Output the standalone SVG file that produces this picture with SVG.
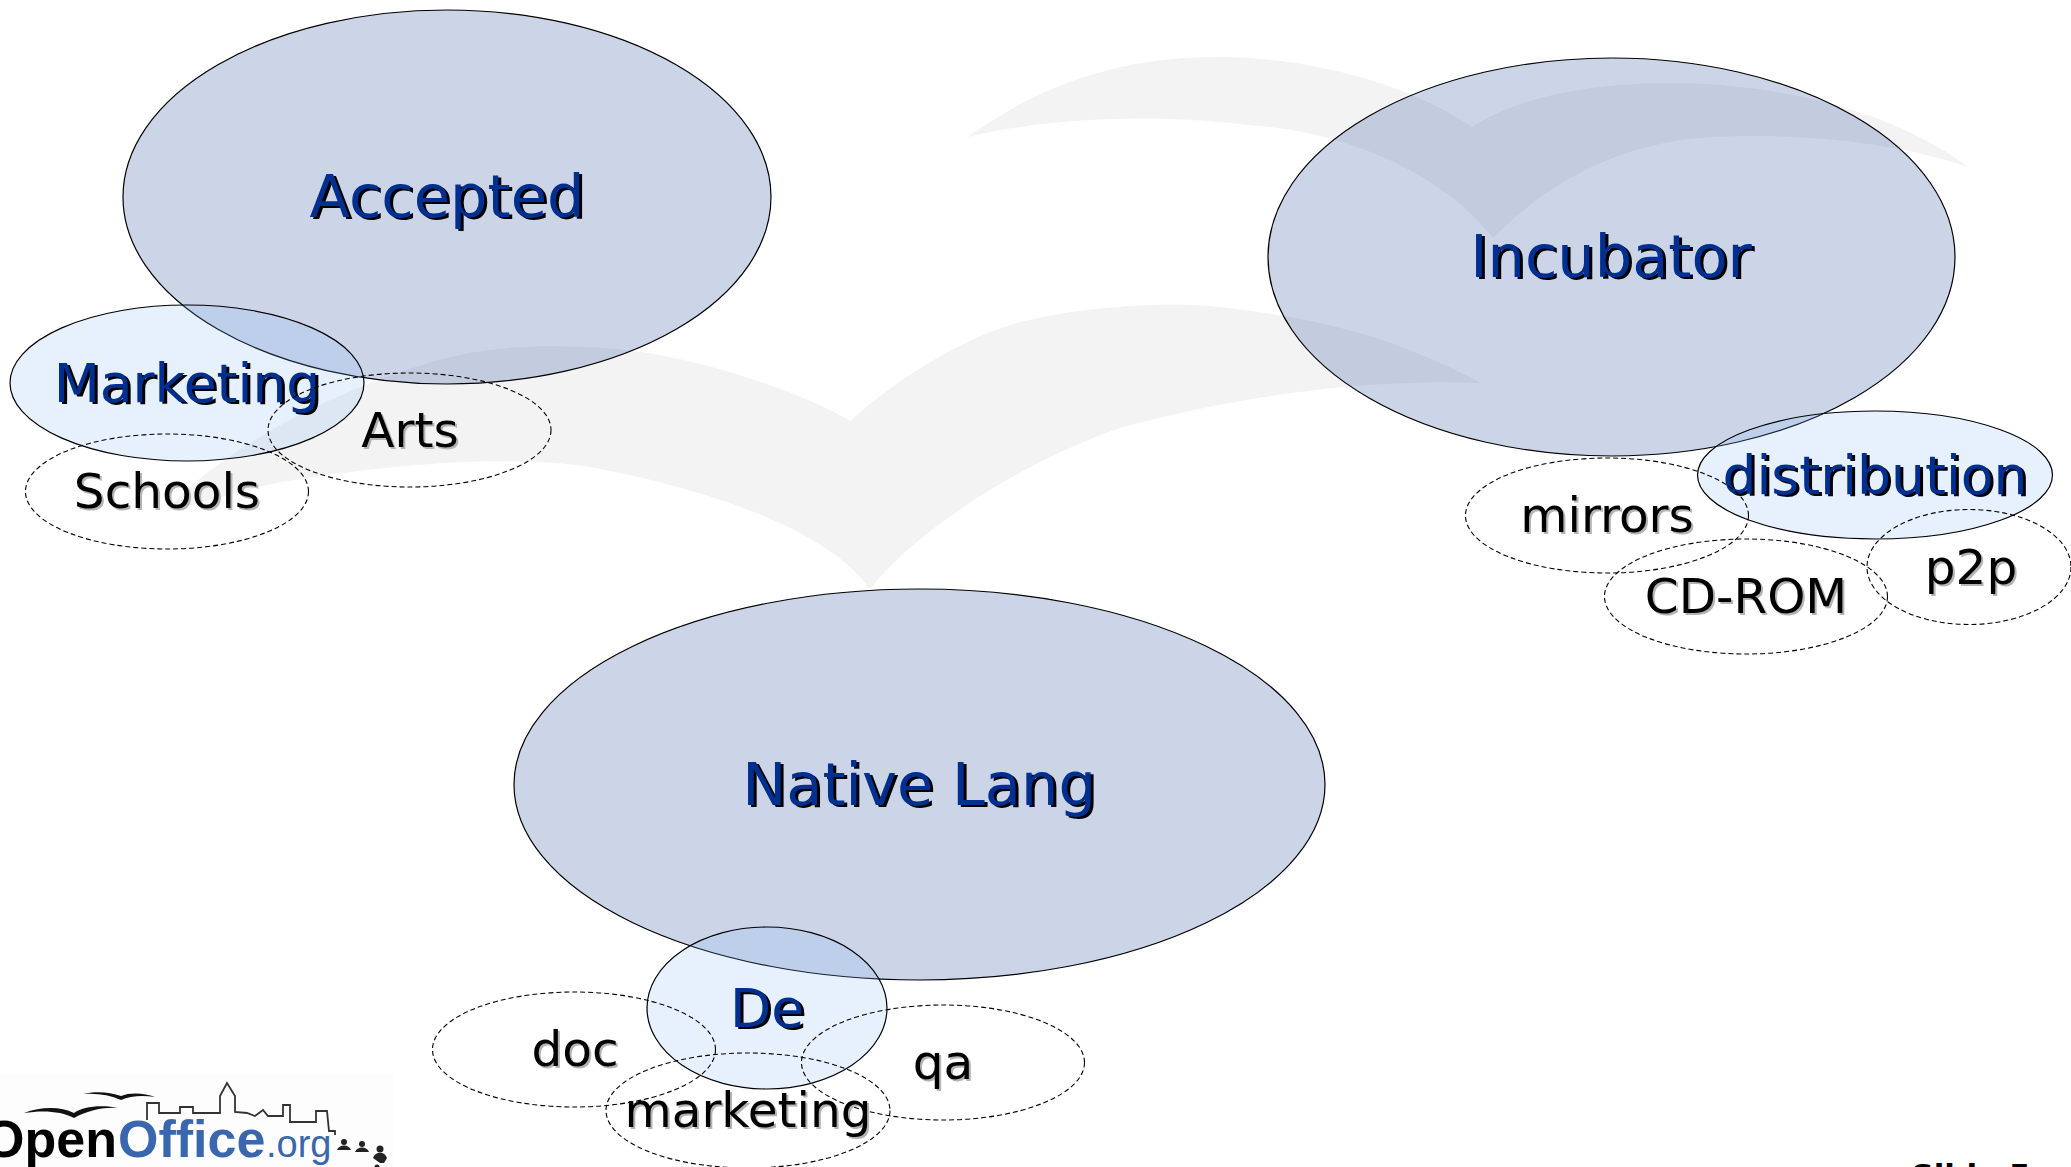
<svg xmlns="http://www.w3.org/2000/svg" width="2071" height="1167" viewBox="0 0 2071 1167">
<style>
.bird{fill:#f3f3f3}
.main{fill:#3357a3;fill-opacity:.25;stroke:#000;stroke-width:1.2}
.sub{fill:#82b9f5;fill-opacity:.2;stroke:#000;stroke-width:1.2}
.dash{fill:none;stroke:#000;stroke-width:1.1;stroke-dasharray:5 3}
text{font-family:"DejaVu Sans",sans-serif;text-anchor:middle}
.big{font-size:59px}
.mid{font-size:53.5px}
.small{font-size:48.5px}
.blue{fill:#002f8f}
.blk{fill:#000}
.sh{fill:#000}
.shg{fill:#b4b4b4}
.lg{font-family:"Liberation Sans",sans-serif;text-anchor:start}
</style>
<rect width="2071" height="1167" fill="#fff"/>
<g id="watermark">
<path class="bird" d="M968,137 C1040,85 1120,55 1229,57 C1320,60 1410,85 1472,127 C1520,95 1600,82 1679,83 C1790,85 1900,115 1968,167 C1890,140 1790,132 1700,138 C1620,145 1550,180 1493,238 C1440,170 1340,130 1247,125 C1170,115 1060,115 968,137Z"/>
<path class="bird" d="M165,512 C215,455 320,395 432,362 C500,340 600,345 648,353 C720,365 800,392 851,421 C880,392 960,335 1029,320 C1100,303 1190,302 1228,308 C1330,320 1400,340 1481,383 C1370,378 1240,395 1120,428 C1040,455 925,520 870,589 C835,540 740,495 590,467 C520,457 430,460 306,478 C260,484 205,502 165,512Z"/>
</g>
<g id="accepted-node">
<ellipse class="main" cx="447" cy="197" rx="324" ry="187"/>
<text class="big sh" x="450" y="219">Accepted</text><text class="big blue" x="447" y="217">Accepted</text>
</g>
<g id="incubator-node">
<ellipse class="main" cx="1611.5" cy="257" rx="343.5" ry="199"/>
<text class="big sh" x="1614" y="279">Incubator</text><text class="big blue" x="1611" y="277">Incubator</text>
</g>
<g id="nativelang-node">
<ellipse class="main" cx="919.5" cy="784.5" rx="405.5" ry="195.5"/>
<text class="big sh" x="922" y="807">Native Lang</text><text class="big blue" x="919" y="805">Native Lang</text>
</g>
<g id="marketing-node">
<ellipse class="sub" cx="187" cy="383" rx="177" ry="78"/>
<text class="mid sh" x="190" y="404">Marketing</text><text class="mid blue" x="187" y="402">Marketing</text>
</g>
<g id="arts-node">
<ellipse class="dash" cx="409.5" cy="430" rx="141.5" ry="57"/>
<text class="small shg" x="412" y="449">Arts</text><text class="small blk" x="410" y="447">Arts</text>
</g>
<g id="schools-node">
<ellipse class="dash" cx="167" cy="491.5" rx="141.5" ry="57.5"/>
<text class="small shg" x="169" y="510">Schools</text><text class="small blk" x="167" y="508">Schools</text>
</g>
<g id="distribution-node">
<ellipse class="sub" cx="1875" cy="475" rx="177.5" ry="64"/>
<text class="mid sh" x="1878" y="496">distribution</text><text class="mid blue" x="1875" y="494">distribution</text>
</g>
<g id="mirrors-node">
<ellipse class="dash" cx="1607" cy="515.5" rx="141.5" ry="57.5"/>
<text class="small shg" x="1609" y="534">mirrors</text><text class="small blk" x="1607" y="532">mirrors</text>
</g>
<g id="cdrom-node">
<ellipse class="dash" cx="1746" cy="596.5" rx="141.5" ry="57.5"/>
<text class="small shg" x="1748" y="615">CD-ROM</text><text class="small blk" x="1746" y="613">CD-ROM</text>
</g>
<g id="p2p-node">
<ellipse class="dash" cx="1969" cy="567" rx="102" ry="57.5"/>
<text class="small shg" x="1973" y="586">p2p</text><text class="small blk" x="1971" y="584">p2p</text>
</g>
<g id="de-node">
<ellipse class="sub" cx="767" cy="1008" rx="120" ry="81"/>
<text class="mid sh" x="770" y="1029">De</text><text class="mid blue" x="767" y="1027">De</text>
</g>
<g id="doc-node">
<ellipse class="dash" cx="574" cy="1049.5" rx="141.5" ry="57.5"/>
<text class="small shg" x="577" y="1068">doc</text><text class="small blk" x="575" y="1066">doc</text>
</g>
<g id="qa-node">
<ellipse class="dash" cx="943" cy="1062.5" rx="141.5" ry="57.5"/>
<text class="small shg" x="945" y="1081">qa</text><text class="small blk" x="943" y="1079">qa</text>
</g>
<g id="marketing-sub-node">
<ellipse class="dash" cx="748" cy="1110.5" rx="142" ry="57.5"/>
<text class="small shg" x="750" y="1129">marketing</text><text class="small blk" x="748" y="1127">marketing</text>
</g>
<g id="logo">
<rect x="0" y="1073" width="394" height="94" fill="#fdfdfd"/>
<path d="M24,1113 C40,1107 60,1106 74,1113 C82,1107 100,1104 119,1108 C105,1107 88,1110 74,1118 C62,1111 42,1110 24,1113Z M83,1094 C95,1091 110,1092 121,1096 C130,1092 145,1093 155,1097 C142,1095 130,1096 121,1100 C110,1095 97,1093 83,1094Z" fill="#111"/>
<path d="M147,1120 V1103 H159 V1113 H180 V1107 H193 V1113 H220 V1096 L227,1083 L235,1096 V1112 L247,1113 L255,1116 L263,1110 L268,1116 H283 V1105 H290 V1122 H316 V1111 H327 L329,1131 H335 V1135" fill="none" stroke="#333" stroke-width="1.8"/>
<text class="lg" y="1157" font-weight="700" font-size="52" fill="#000">
<tspan x="-16">Open</tspan>
<tspan x="118" fill="#3a66ad">Office</tspan>
<tspan x="266" y="1157" font-size="38" font-weight="400" fill="#3a66ad">.org</tspan>
</text>
<g fill="#222">
<circle cx="344" cy="1142" r="3"/><path d="M337,1150 C339,1144 349,1144 351,1150Z"/>
<circle cx="362" cy="1144" r="3"/><path d="M355,1152 C357,1146 367,1146 369,1152Z"/>
<circle cx="380" cy="1149" r="3.5"/><path d="M373,1158 C375,1151 385,1151 387,1158 L384,1163 H380Z"/>
<circle cx="377" cy="1167" r="2.5"/>
</g>
</g>
<g id="footer">
<text x="1971" y="1186" style="font-size:31px;font-weight:700">Slide 5</text>
</g>
</svg>
